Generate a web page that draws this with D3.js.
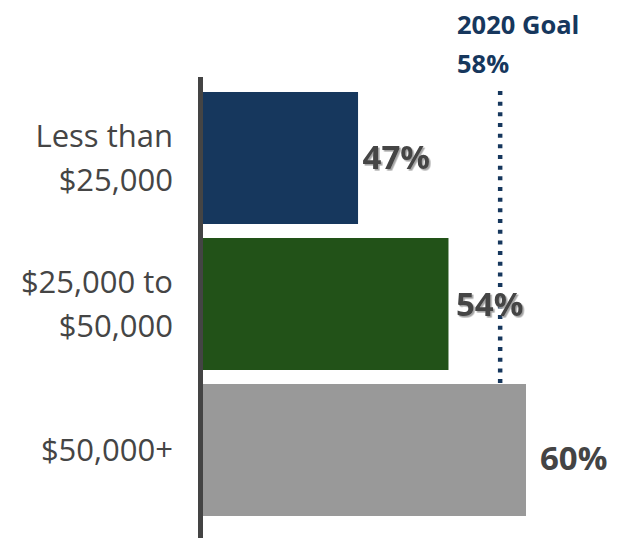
<!DOCTYPE html>
<html>
<head>
<meta charset="utf-8">
<script src="https://cdn.jsdelivr.net/npm/d3@7"></script>
<style>
  html, body { margin: 0; padding: 0; background: #fff; }
  svg { display: block; font-family: "Open Sans", "Noto Sans", sans-serif; }
</style>
</head>
<body>
<svg id="chart" width="623" height="538"></svg>
<script>
// Income groups and share reaching the goal (%)
const categories = ["Less than $25,000", "$25,000 to $50,000", "$50,000+"];
const categoryLines = [["Less than", "$25,000"], ["$25,000 to", "$50,000"], ["$50,000+"]];
const values = [47, 54, 60];
const barColors = ["#16375d", "#225218", "#999999"];
const goalValue = 58;
const goalLabel = ["2020 Goal", "58%"];

const svg = d3.select("#chart");

const x = d3.scaleLinear().domain([35, 60]).range([203, 526]);
const y = d3.scaleBand()
  .domain(categories)
  .range([85, 523])
  .paddingInner(0.096)
  .paddingOuter(0.048);

// soft shadow for the first two value labels
const defs = svg.append("defs");
defs.append("filter").attr("id", "txtShadow")
  .attr("x", "-10%").attr("y", "-10%").attr("width", "130%").attr("height", "140%")
  .append("feDropShadow")
  .attr("dx", 1.6).attr("dy", 1.6).attr("stdDeviation", 0.7)
  .attr("flood-color", "#9a9a9a").attr("flood-opacity", 0.9);

// goal reference line (dotted), drawn behind the bars
svg.append("line")
  .attr("x1", x(goalValue)).attr("x2", x(goalValue))
  .attr("y1", 91).attr("y2", 384)
  .attr("stroke", "#16375d")
  .attr("stroke-width", 4.5)
  .attr("stroke-dasharray", "4,6.67");

// bars
svg.append("g").selectAll("rect")
  .data(values)
  .join("rect")
  .attr("x", x(35))
  .attr("y", (d, i) => y(categories[i]))
  .attr("width", d => x(d) - x(35))
  .attr("height", y.bandwidth())
  .attr("fill", (d, i) => barColors[i]);

// vertical baseline
svg.append("rect")
  .attr("x", x(35) - 5).attr("y", 77)
  .attr("width", 5).attr("height", 538 - 77)
  .attr("fill", "#444444");

// category axis with multi-line labels
const axis = svg.append("g")
  .attr("transform", "translate(178,0)")
  .call(d3.axisLeft(y).tickSize(0).tickPadding(5));
axis.select(".domain").remove();
axis.selectAll(".tick text").each(function(d, i) {
  const lines = categoryLines[i];
  const t = d3.select(this)
    .text(null)
    .attr("fill", "#454545")
    .attr("font-size", 31)
    .attr("font-family", "'Open Sans', sans-serif")
    .attr("dy", null)
    .attr("x", -5);
  const lh = 44;
  const first = -((lines.length - 1) * lh) / 2 + 11;
  lines.forEach((ln, j) => {
    t.append("tspan")
      .attr("x", -5)
      .attr("y", first + j * lh)
      .text(ln);
  });
});

// value labels
const labelDx = [4.5, 7.5, 14];
const labelDy = [11, 12, 20];
svg.append("g").selectAll("text")
  .data(values)
  .join("text")
  .attr("x", (d, i) => x(d) + labelDx[i])
  .attr("y", (d, i) => y(categories[i]) + y.bandwidth() / 2 + labelDy[i])
  .attr("fill", "#444444")
  .attr("font-size", 33)
  .attr("font-weight", "bold")
  .attr("filter", (d, i) => i < 2 ? "url(#txtShadow)" : null)
  .text(d => d + "%");

// goal annotation
svg.append("text")
  .attr("x", 457)
  .attr("fill", "#16375d")
  .attr("font-size", 25.5)
  .attr("font-weight", "bold")
  .selectAll("tspan")
  .data(goalLabel)
  .join("tspan")
  .attr("x", 457)
  .attr("y", (d, i) => 34 + i * 39)
  .text(d => d);
</script>
</body>
</html>
